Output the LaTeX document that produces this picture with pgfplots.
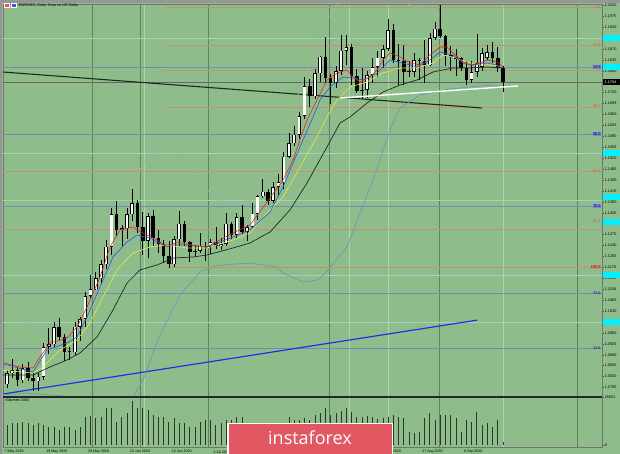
\documentclass[border=0pt]{standalone}
\usepackage{pgfplots}
\pgfplotsset{compat=1.18}
\usepackage{pgfplotstable}
\usepackage{fontspec}
\setmainfont{Liberation Sans}
\newfontfamily\logofont{Open Sans}
\definecolor{bg}{RGB}{143,188,139}
\definecolor{bordc}{RGB}{150,150,150}
\definecolor{darkv}{RGB}{100,128,96}
\definecolor{lightv}{RGB}{178,210,172}
\definecolor{orangec}{RGB}{196,146,110}
\definecolor{bluec}{RGB}{118,138,180}
\definecolor{cyanc}{RGB}{152,214,194}
\definecolor{cyanbox}{RGB}{0,240,255}
\definecolor{mared}{RGB}{225,40,30}
\definecolor{mablue}{RGB}{40,90,230}
\definecolor{mayellow}{RGB}{235,235,70}
\definecolor{madark}{RGB}{25,45,25}
\definecolor{bbup}{RGB}{165,178,162}
\definecolor{bblow}{RGB}{110,148,180}
\definecolor{tlblue}{RGB}{30,50,230}
\definecolor{logored}{RGB}{226,88,98}
\definecolor{volc}{RGB}{40,55,40}
\definecolor{fibblue}{RGB}{120,130,220}
\newcommand{\tf}{\fontsize{3.8}{4}\selectfont}
\newcommand{\df}{\fontsize{3.6}{4}\selectfont}

\pgfplotstableread{
i o h l c v
0 1.0795 1.0840 1.0782 1.0830 10800
1 1.0830 1.0875 1.0814 1.0840 11718
2 1.0840 1.0852 1.0790 1.0808 11718
3 1.0808 1.0860 1.0798 1.0848 12582
4 1.0848 1.0866 1.0805 1.0817 11718
5 1.0817 1.0830 1.0775 1.0805 10800
6 1.0805 1.0833 1.0775 1.0820 11718
7 1.0820 1.0929 1.0810 1.0915 10800
8 1.0915 1.0975 1.0894 1.0923 9882
9 1.0923 1.0994 1.0914 1.0978 9882
10 1.0978 1.1008 1.0937 1.0948 8100
11 1.0948 1.0958 1.0870 1.0900 9882
12 1.0900 1.0915 1.0873 1.0898 9882
13 1.0898 1.0996 1.0890 1.0980 8100
14 1.0980 1.1010 1.0935 1.1005 9882
15 1.1005 1.1092 1.0980 1.1078 14958
16 1.1078 1.1147 1.1072 1.1100 15660
17 1.1100 1.1154 1.1097 1.1135 14418
18 1.1135 1.1195 1.1121 1.1180 15282
19 1.1180 1.1257 1.1166 1.1236 19818
20 1.1236 1.1361 1.1210 1.1340 19818
21 1.1340 1.1384 1.1270 1.1290 12582
22 1.1290 1.1305 1.1240 1.1295 15282
23 1.1295 1.1360 1.1262 1.1340 17118
24 1.1340 1.1422 1.1320 1.1375 23922
25 1.1375 1.1387 1.1280 1.1300 19818
26 1.1300 1.1346 1.1210 1.1255 19818
27 1.1255 1.1345 1.1200 1.1335 18900
28 1.1335 1.1353 1.1240 1.1265 16200
29 1.1265 1.1290 1.1216 1.1245 15282
30 1.1245 1.1257 1.1185 1.1205 15282
31 1.1205 1.1255 1.1168 1.1180 12582
32 1.1180 1.1270 1.1172 1.1260 14418
33 1.1260 1.1350 1.1240 1.1310 11718
34 1.1310 1.1320 1.1240 1.1250 11718
35 1.1250 1.1255 1.1186 1.1220 9882
36 1.1220 1.1238 1.1206 1.1222 9882
37 1.1222 1.1280 1.1215 1.1240 12582
38 1.1240 1.1250 1.1190 1.1235 13500
39 1.1235 1.1260 1.1212 1.1250 13500
40 1.1250 1.1300 1.1230 1.1240 10800
41 1.1240 1.1265 1.1225 1.1245 11718
42 1.1245 1.1345 1.1240 1.1310 13500
43 1.1310 1.1315 1.1260 1.1275 13500
44 1.1275 1.1345 1.1260 1.1330 15282
45 1.1330 1.1370 1.1276 1.1285 15120
46 1.1285 1.1305 1.1255 1.1300 9180
47 1.1300 1.1375 1.1295 1.1342 9720
48 1.1342 1.1402 1.1322 1.1398 8640
49 1.1398 1.1452 1.1392 1.1413 10260
50 1.1413 1.1420 1.1370 1.1384 9180
51 1.1384 1.1445 1.1375 1.1428 9720
52 1.1428 1.1468 1.1402 1.1443 10260
53 1.1443 1.1540 1.1420 1.1525 9720
54 1.1525 1.1602 1.1520 1.1568 15120
55 1.1568 1.1624 1.1560 1.1595 13500
56 1.1595 1.1667 1.1580 1.1655 13500
57 1.1655 1.1781 1.1645 1.1750 14580
58 1.1750 1.1774 1.1684 1.1718 13500
59 1.1718 1.1806 1.1710 1.1792 16200
60 1.1792 1.1848 1.1763 1.1845 17280
61 1.1845 1.1908 1.1760 1.1778 19980
62 1.1778 1.1790 1.1695 1.1762 16200
63 1.1762 1.1815 1.1745 1.1800 17280
64 1.1800 1.1916 1.1788 1.1865 18360
65 1.1865 1.1915 1.1820 1.1875 19980
66 1.1875 1.1886 1.1755 1.1785 17820
67 1.1785 1.1806 1.1730 1.1735 15120
68 1.1735 1.1810 1.1711 1.1738 15120
69 1.1738 1.1800 1.1712 1.1787 15660
70 1.1787 1.1840 1.1760 1.1812 15120
71 1.1812 1.1865 1.1780 1.1842 14040
72 1.1842 1.1882 1.1810 1.1870 14580
73 1.1870 1.1966 1.1865 1.1930 15120
74 1.1930 1.1951 1.1825 1.1835 16200
75 1.1835 1.1887 1.1753 1.1830 15120
76 1.1830 1.1883 1.1753 1.1795 14580
77 1.1795 1.1832 1.1780 1.1797 7020
78 1.1797 1.1858 1.1780 1.1834 6480
79 1.1834 1.1842 1.1770 1.1830 7020
80 1.1830 1.1900 1.1762 1.1818 14580
81 1.1818 1.1920 1.1815 1.1905 17280
82 1.1905 1.1958 1.1900 1.1935 13500
83 1.1935 1.2011 1.1904 1.1912 16200
84 1.1912 1.1914 1.1814 1.1851 16200
85 1.1851 1.1880 1.1800 1.1843 16200
86 1.1843 1.1870 1.1782 1.1838 14580
87 1.1841 1.1845 1.1799 1.1809 7020
88 1.1809 1.1830 1.1753 1.1771 13500
89 1.1771 1.1830 1.1760 1.1796 12420
90 1.1796 1.1917 1.1780 1.1825 17820
91 1.1812 1.1874 1.1800 1.1857 10800
92 1.1841 1.1882 1.1834 1.1860 11880
93 1.1860 1.1892 1.1824 1.1841 9720
94 1.1841 1.1876 1.1795 1.1809 13500
95 1.1809 1.1815 1.1732 1.1764 1620
}\candles

\begin{document}
\begin{tikzpicture}
\begin{scope}[x=1pt,y=1pt]
\fill[bordc] (0,0) rectangle (620,454);
\fill[bg] (2,0) rectangle (620,451);
\foreach \xx/\cc in {92/darkv,140/darkv,144/lightv,208/darkv,329/darkv,349/lightv,388/lightv,439/darkv,503/lightv,577/darkv}
  \draw[\cc, line width=0.6pt] (\xx,7) -- (\xx,450);
\end{scope}

\begin{axis}[
  at={(3pt,57pt)}, anchor=south west, width=599pt, height=393pt, scale only axis,
  xmin=-0.766, xmax=113.98, ymin=1.075459, ymax=1.201421,
  axis line style={draw=black!55, line width=0.5pt},
  xtick=\empty,
  ytick={1.0785,1.0820,1.0855,1.0890,1.0925,1.0960,1.0995,1.1030,1.1065,1.1100,1.1135,1.1170,1.1205,1.1240,1.1275,1.1310,1.1345,1.1380,1.1415,1.1450,1.1485,1.1520,1.1555,1.1590,1.1625,1.1660,1.1695,1.1730,1.1765,1.1800,1.1835,1.1870,1.1905,1.1940,1.1975,1.2010},
  ytick pos=right, yticklabel pos=right, tick align=outside, major tick length=2pt,
  tick style={black!70, line width=0.4pt},
  scaled y ticks=false,
  /pgf/number format/assume math mode=true,
  yticklabel style={font=\tf, inner sep=0.6pt, /pgf/number format/fixed, /pgf/number format/fixed zerofill, /pgf/number format/precision=4},
  clip=true,
  candle/.style={draw=none, mark=none, forget plot, /pgfplots/error bars/y dir=plus, /pgfplots/error bars/y explicit, /pgfplots/error bars/error mark=none},
]
% horizontal levels
\addplot[cyanc, line width=0.6pt] coordinates {(-1,1.19052) (114,1.19052)};
\addplot[bluec, line width=0.6pt] coordinates {(-1,1.18123) (114,1.18123)};
\addplot[black!60, line width=0.5pt] coordinates {(-1,1.17642) (114,1.17642)};
\addplot[bluec, line width=0.6pt] coordinates {(-1,1.15975) (114,1.15975)};
\addplot[cyanc, line width=0.6pt] coordinates {(-1,1.15367) (114,1.15367)};
\addplot[orangec, line width=0.6pt] coordinates {(-1,1.14789) (114,1.14789)};
\addplot[cyanc, line width=0.6pt] coordinates {(-1,1.13860) (114,1.13860)};
\addplot[bluec, line width=0.6pt] coordinates {(-1,1.13668) (114,1.13668)};
\addplot[orangec, line width=0.6pt] coordinates {(-1,1.12929) (114,1.12929)};
\addplot[cyanc, line width=0.6pt] coordinates {(-1,1.11456) (114,1.11456)};
\addplot[bluec, line width=0.6pt] coordinates {(-1,1.10879) (114,1.10879)};
\addplot[cyanc, line width=0.6pt] coordinates {(-1,1.09950) (114,1.09950)};
\addplot[bluec, line width=0.6pt] coordinates {(-1,1.09117) (114,1.09117)};
\addplot[orangec, line width=0.6pt] coordinates {(30.3,1.20046) (114,1.20046)};
\addplot[orangec, line width=0.6pt] coordinates {(30.3,1.18828) (114,1.18828)};
\addplot[orangec, line width=0.6pt] coordinates {(30.3,1.18027) (114,1.18027)};
\addplot[orangec, line width=0.6pt] coordinates {(30.3,1.16841) (114,1.16841)};
\addplot[orangec, line width=0.6pt] coordinates {(30.3,1.11713) (114,1.11713)};
% trend lines
\addplot[madark, line width=1.1pt] coordinates {(-0.77,1.17962) (91.0,1.16809)};
\addplot[tlblue, line width=1.2pt] coordinates {(-0.77,1.07642) (90.0,1.10008)};
% bollinger
\addplot[bbup, line width=0.6pt] coordinates {(-1.34,1.10174) (2.49,1.10014) (6.90,1.09694) (11.49,1.09630) (15.33,1.10014) (17.82,1.10976) (20.31,1.12354) (22.99,1.13860) (24.14,1.14405) (26.44,1.15142) (29.31,1.15462) (32.18,1.15398) (35.06,1.14982) (38.31,1.14181) (40.80,1.13860) (43.68,1.13700) (46.55,1.13860) (50.38,1.14757) (54.21,1.16424) (58.05,1.18347) (61.30,1.19629) (63.79,1.2027) (67.62,1.2059) (73.37,1.2043) (77.20,1.2011) (81.03,1.19853) (85.44,1.19725) (88.70,1.19693) (93.87,1.19469) (95.02,1.19373)};
\addplot[bblow, line width=0.6pt] coordinates {(-1.34,1.07610) (3.83,1.07674) (8.24,1.07610) (13.41,1.07546) (17.82,1.0745) (22.6,1.0739) (24.14,1.07546) (26.05,1.08091) (29.31,1.09533) (33.14,1.10815) (36.97,1.11553) (39.85,1.11745) (43.68,1.11809) (46.55,1.11841) (51.72,1.11713) (52.87,1.11520) (56.70,1.11232) (59.58,1.11296) (61.49,1.11617) (65.13,1.12354) (67.62,1.13443) (70.11,1.14501) (72.03,1.15463) (73.75,1.16264) (75.29,1.16809) (79.12,1.17225) (84.87,1.17418) (90.61,1.17514) (95.02,1.17546)};
% candles: wicks
\addplot[candle, /pgfplots/error bars/error bar style={draw=black, line width=0.6pt}]
  table[x=i, y=l, y error plus expr={\thisrow{h}-\thisrow{l}}] {\candles};
% bodies
\addplot[candle, /pgfplots/error bars/error bar style={draw=black, line width=3.6pt}]
  table[x=i, y expr={min(\thisrow{o},\thisrow{c})}, y error plus expr={max(abs(\thisrow{c}-\thisrow{o}),0.0003)}] {\candles};
\addplot[candle, /pgfplots/error bars/error bar style={draw=white, line width=2.3pt}]
  table[x=i, y expr={\thisrow{o}+0.00022}, y error plus expr={max(\thisrow{c}-\thisrow{o}-0.00044,0)}] {\candles};
% moving averages
\addplot[madark, line width=0.7pt] coordinates {(-1.34,1.08251) (4.98,1.08251) (8.24,1.08508) (11.49,1.08732) (13.98,1.08956) (17.24,1.09469) (20.31,1.10335) (22.99,1.11200) (25.48,1.11617) (28.74,1.11777) (31.80,1.11999) (35.63,1.12033) (38.31,1.12097) (43.30,1.12322) (46.55,1.12482) (50.38,1.12834) (54.21,1.13540) (57.47,1.14405) (61.30,1.15559) (63.79,1.16328) (65.71,1.16520) (68.97,1.16969) (72.03,1.17321) (75.29,1.17546) (78.54,1.17706) (81.61,1.17963) (85.44,1.18091) (88.70,1.18091) (91.95,1.18123) (95.02,1.18091)};
\addplot[mayellow, line width=0.6pt] coordinates {(-1.34,1.08412) (4.98,1.08315) (6.90,1.08508) (10.15,1.09052) (13.41,1.09373) (15.90,1.09918) (18.39,1.10751) (21.07,1.11617) (24.14,1.12161) (27.39,1.12354) (30.65,1.12418) (34.48,1.12322) (38.31,1.12322) (43.30,1.12578) (46.55,1.12802) (49.81,1.13443) (52.87,1.13956) (56.13,1.14918) (59.39,1.15879) (61.30,1.16520) (63.22,1.17065) (65.71,1.17482) (68.97,1.17642) (72.03,1.17930) (75.29,1.18091) (78.54,1.18091) (81.61,1.18251) (83.52,1.18507) (85.44,1.18443) (88.12,1.18283) (90.61,1.18187) (93.10,1.18187) (95.02,1.18123)};
\addplot[mablue, line width=0.6pt] coordinates {(-1.34,1.08636) (4.98,1.08347) (7.66,1.09052) (11.49,1.09277) (13.41,1.09469) (15.33,1.10110) (17.82,1.11072) (20.31,1.12033) (22.99,1.12514) (24.90,1.12738) (27.39,1.12642) (29.89,1.12418) (31.80,1.12418) (35.06,1.12418) (38.31,1.12354) (43.30,1.12674) (46.55,1.12899) (50.38,1.13476) (52.87,1.14277) (54.79,1.15046) (56.70,1.15783) (58.62,1.16520) (59.96,1.17065) (61.88,1.17482) (64.37,1.17802) (66.28,1.17770) (68.20,1.17706) (70.88,1.17930) (73.37,1.18347) (75.86,1.18251) (78.54,1.18123) (81.03,1.18347) (82.95,1.18603) (85.44,1.18507) (87.36,1.18251) (89.27,1.18187) (91.95,1.18251) (93.87,1.18187) (95.02,1.18091)};
\addplot[mared, line width=0.6pt] coordinates {(-1.34,1.08668) (2.49,1.08508) (4.98,1.08476) (5.94,1.08732) (8.24,1.09277) (11.49,1.09437) (13.41,1.09790) (15.33,1.10431) (17.82,1.11392) (19.73,1.12354) (21.65,1.12899) (24.14,1.12995) (26.05,1.12802) (28.74,1.12578) (30.65,1.12354) (32.57,1.12514) (35.06,1.12418) (38.31,1.12354) (40.80,1.12578) (43.30,1.12802) (46.55,1.13059) (49.81,1.13796) (52.87,1.14501) (54.79,1.15142) (56.13,1.15783) (57.47,1.16424) (59.39,1.17065) (61.30,1.17706) (63.22,1.17930) (65.13,1.18027) (66.28,1.17802) (67.62,1.17642) (69.54,1.17802) (70.88,1.18027) (72.03,1.18347) (73.37,1.18571) (75.29,1.18443) (77.20,1.18251) (79.12,1.18187) (81.03,1.18507) (82.95,1.18764) (84.29,1.18764) (85.44,1.18571) (87.36,1.18283) (88.70,1.18187) (90.61,1.18251) (91.95,1.18347) (93.87,1.18283) (95.02,1.18123)};
\addplot[white, line width=1.4pt] coordinates {(63.8,1.17129) (97.9,1.17514)};
\end{axis}

\begin{axis}[
  at={(3pt,7pt)}, anchor=south west, width=599pt, height=50pt, scale only axis,
  xmin=-0.766, xmax=113.98, ymin=-1080, ymax=25920,
  axis line style={draw=black!55, line width=0.5pt},
  xtick={0,8,16,24,32,40,48,56,64,72,80,88},
  xticklabels={7 May 2020,19 May 2020,29 May 2020,10 Jun 2020,22 Jun 2020,2 Jul 2020,14 Jul 2020,24 Jul 2020,5 Aug 2020,17 Aug 2020,27 Aug 2020,8 Sep 2020},
  xtick style={draw=none},
  xticklabel style={font=\df, anchor=north west, inner sep=0pt, xshift=-2.5pt, yshift=-1.2pt},
  scaled y ticks=false, scaled x ticks=false,
  ytick={0,25851}, yticklabels={0,25851},
  ytick pos=right, yticklabel pos=right, tick align=outside, major tick length=2pt,
  ytick style={black!70, line width=0.4pt},
  yticklabel style={font=\tf, inner sep=0.6pt},
  clip=true,
]
\addplot[ycomb, draw=volc, line width=0.7pt, mark=none] table[x=i, y=v] {\candles};
\end{axis}

\begin{scope}[x=1pt,y=1pt]
\draw[black!85, line width=1.1pt] (3,57) -- (602,57);
% title
\fill[white] (4,445.5) rectangle (10,450.5);
\fill[red!70] (5,446.5) rectangle (9,449.5);
\fill[white] (11,445.5) rectangle (17,450.5);
\fill[blue!70] (12,446.5) rectangle (16,449.5);
\node[anchor=west, inner sep=0pt, font=\tf] at (19,448) {EURUSD, Daily: Euro vs US Dollar};
\node[anchor=west, inner sep=0pt, font=\tf] at (5,53.5) {Volumes 2464};
% right axis boxes
\foreach \yy in {38,67,153,197,222,275,322}
  \fill[cyanbox] (603,454-\yy-2.6) rectangle (620,454-\yy+2.6);
\fill[black] (603,454-82-3) rectangle (620,454-82+3);
\node[anchor=west, inner sep=0pt, font=\tf, text=white] at (604.5,372) {1.1764};
% fib labels
\node[anchor=east, inner sep=0.3pt, font=\tf, text=orangec!60!red] at (601,454-7) {0.0};
\node[anchor=east, inner sep=0.3pt, font=\tf, text=orangec!60!red] at (601,454-45) {14.6};
\node[anchor=east, inner sep=0.4pt, font=\tf, text=blue!50!black, fill=fibblue] at (601,454-67) {23.6};
\node[anchor=east, inner sep=0.3pt, font=\tf, text=orangec!60!red] at (601,454-106) {38.2};
\node[anchor=east, inner sep=0.4pt, font=\tf, text=blue!50!black, fill=fibblue] at (601,454-134) {50.0};
\node[anchor=east, inner sep=0.3pt, font=\tf, text=orangec!60!red] at (601,454-171) {61.8};
\node[anchor=east, inner sep=0.4pt, font=\tf, text=blue!50!black, fill=fibblue] at (601,454-206) {76.4};
\node[anchor=east, inner sep=0.3pt, font=\tf, text=orangec!60!red] at (601,454-221) {85.4};
\node[anchor=east, inner sep=0.4pt, font=\tf, text=red!60!black, fill=orangec] at (601,454-267) {100.0};
\node[anchor=east, inner sep=0.3pt, font=\tf, text=blue!60!black] at (601,454-293) {23.6};
\node[anchor=east, inner sep=0.3pt, font=\tf, text=blue!60!black] at (601,454-348) {14.6};
% logo
\fill[white] (227,0) rectangle (393,31);
\fill[logored] (228.5,0) rectangle (391.5,29.5);
\node[anchor=base, inner sep=0pt, text=white, font=\logofont\fontsize{18}{18}\selectfont] at (310,9) {instaforex};
\end{scope}
\end{tikzpicture}
\end{document}
